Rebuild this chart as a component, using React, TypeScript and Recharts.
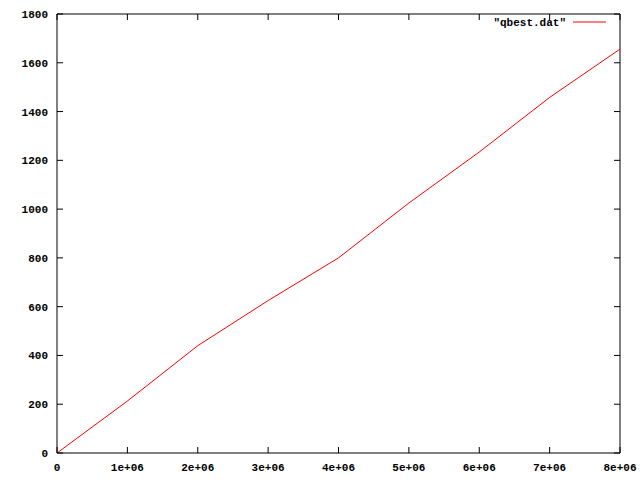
import React from "react";
import { LineChart, Line, XAxis, YAxis, ReferenceArea } from "recharts";

const xs = [0, 1e6, 2e6, 3e6, 4e6, 5e6, 6e6, 7e6, 8e6];
const ys = [0, 213, 440, 625, 800, 1025, 1234, 1458, 1656];
const xTicks = [0, 1e6, 2e6, 3e6, 4e6, 5e6, 6e6, 7e6, 8e6];
const xTickLabels = ["0", "1e+06", "2e+06", "3e+06", "4e+06", "5e+06", "6e+06", "7e+06", "8e+06"];
const yTicks = [0, 200, 400, 600, 800, 1000, 1200, 1400, 1600, 1800];
const data = xs.map((x, i) => ({ x, y: ys[i] }));

const TOP = 14, BOTTOM = 453, LEFT = 57, RIGHT = 620;
const font = { fontFamily: "Liberation Mono, DejaVu Sans Mono, monospace", fontSize: 11, fontWeight: "bold" as const };

const XTick = (p: any) => {
  const i = xTicks.indexOf(p.payload.value);
  return (
    <g>
      <line x1={p.x} x2={p.x} y1={BOTTOM} y2={BOTTOM - 6} stroke="#000" />
      <line x1={p.x} x2={p.x} y1={TOP} y2={TOP + 6} stroke="#000" />
      <text x={p.x} y={BOTTOM + 18} textAnchor="middle" fill="#000" style={font}>{xTickLabels[i]}</text>
    </g>
  );
};
const YTick = (p: any) => (
  <g>
    <line x1={LEFT} x2={LEFT + 6} y1={p.y} y2={p.y} stroke="#000" />
    <line x1={RIGHT} x2={RIGHT - 6} y1={p.y} y2={p.y} stroke="#000" />
    <text x={LEFT - 9} y={p.y + 4} textAnchor="end" fill="#000" style={font}>{p.payload.value}</text>
  </g>
);

export default function App() {
  return (
    <div style={{ position: "absolute", left: 0, top: 0, width: 640, height: 480, background: "#fff" }}>
      <LineChart width={640} height={480} data={data} margin={{ top: TOP, right: 640 - RIGHT, bottom: 0, left: 0 }}>
        <XAxis dataKey="x" type="number" domain={[0, 8e6]} ticks={xTicks} height={480 - BOTTOM} axisLine={false} tickLine={false} tick={<XTick />} interval={0} />
        <YAxis type="number" domain={[0, 1800]} ticks={yTicks} width={LEFT} axisLine={false} tickLine={false} tick={<YTick />} interval={0} />
        <ReferenceArea x1={0} x2={8e6} y1={0} y2={1800} fill="none" stroke="#000" strokeWidth={1} ifOverflow="visible" />
        <Line dataKey="y" stroke="#ff0000" strokeWidth={1} dot={false} isAnimationActive={false} />
      </LineChart>
      <svg width={640} height={30} style={{ position: "absolute", left: 0, top: 0 }}>
        <text x={566} y={26} textAnchor="end" fill="#000" style={font}>"qbest.dat"</text>
        <line x1={573} x2={606} y1={22} y2={22} stroke="#ff0000" />
      </svg>
    </div>
  );
}
